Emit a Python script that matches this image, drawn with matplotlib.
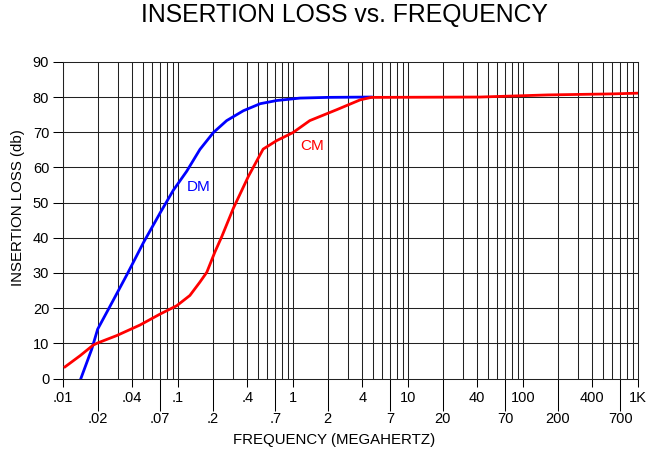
import numpy as np
import matplotlib.pyplot as plt

plt.rcParams['font.family'] = ['Liberation Sans', 'DejaVu Sans']

# DM curve (MHz, dB)
dm_freq = [0.0143, 0.0178, 0.02, 0.0256, 0.0358, 0.05, 0.07, 0.091, 0.119, 0.155, 0.203,
           0.265, 0.37, 0.518, 0.72, 1.15, 2.0, 4.8]
dm_loss = [0.0, 8.4, 14.0, 20.5, 29.4, 38.6, 47.1, 53.5, 58.9, 65.1, 69.9,
           73.3, 76.1, 78.1, 79.0, 79.7, 79.9, 80.0]

# CM curve (MHz, dB)
cm_freq = [0.0104, 0.0141, 0.0183, 0.02, 0.0293, 0.0467, 0.0697, 0.0976, 0.1268, 0.155, 0.178,
           0.209, 0.24, 0.303, 0.41, 0.55, 0.72, 1.0, 1.4, 2.4, 3.84, 4.8, 42.4, 164, 613, 1000]
cm_loss = [3.3, 6.5, 9.5, 10.1, 12.2, 15.2, 18.3, 20.7, 23.6, 27.4, 30.2,
           35.9, 40.3, 48.4, 57.5, 65.2, 67.6, 69.9, 73.3, 76.4, 79.2, 79.9, 80.0, 80.6, 80.9, 81.1]

top_ticks = [0.01, 0.04, 0.1, 0.4, 1, 4, 10, 40, 100, 400, 1000]
top_labels = ['.01', '.04', '.1', '.4', '1', '4', '10', '40', '100', '400', '1K']
low_ticks = [0.02, 0.07, 0.2, 0.7, 2, 7, 20, 70, 200, 700]
low_labels = ['.02', '.07', '.2', '.7', '2', '7', '20', '70', '200', '700']

fig = plt.figure(figsize=(6.53, 4.65), dpi=100)
ax = fig.add_axes([0.0965, 0.186, 0.8805, 0.681])

# vertical grid, 1..9 per decade
for dec in [0.01, 0.1, 1, 10, 100]:
    for m in range(1, 10):
        ax.axvline(dec * m, color='#222222', lw=0.75, zorder=1)
for yv in range(10, 90, 10):
    ax.axhline(yv, color='#222222', lw=0.75, zorder=1)

ax.plot(dm_freq, dm_loss, color='#0000ff', lw=2, zorder=3, solid_joinstyle='round')
ax.plot(cm_freq, cm_loss, color='#ff0000', lw=2, zorder=3, solid_joinstyle='round')

ax.text(0.15, 54.5, 'DM', color='#0000ff', fontsize=11, ha='center', va='center', zorder=4)
ax.text(1.47, 66.1, 'CM', color='#ff0000', fontsize=11, ha='center', va='center', zorder=4)

ax.set_xscale('log')
ax.set_xlim(0.01, 1000)
ax.set_ylim(0, 90)

ax.set_xticks(top_ticks)
ax.set_xticklabels(top_labels)
ax.set_xticks(low_ticks, minor=True)
ax.set_xticklabels(low_labels, minor=True)
ax.tick_params(axis='x', which='major', length=6, width=0.75, pad=3, labelsize=10.5)
ax.tick_params(axis='x', which='minor', length=23, width=0.75, pad=1, labelsize=10.5)
ax.set_yticks(range(0, 91, 10))
ax.tick_params(axis='y', length=7, width=0.75, pad=3, labelsize=10.5)

for s in ax.spines.values():
    s.set_linewidth(0.75)
    s.set_color('#222222')

fig.text(0.511, 0.054, 'FREQUENCY (MEGAHERTZ)', fontsize=10.8, ha='center', va='center')
fig.text(0.028, 0.554, 'INSERTION LOSS (db)', fontsize=10.8, ha='center', va='center',
         rotation=90)
fig.text(0.527, 0.967, 'INSERTION LOSS vs. FREQUENCY', fontsize=17.8, ha='center', va='center')

fig.savefig('out.png', dpi=100)
